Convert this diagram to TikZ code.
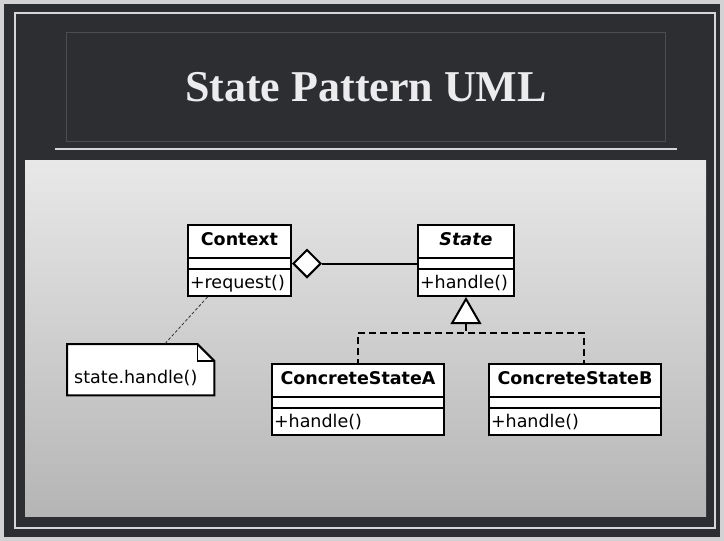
\documentclass[tikz,border=0pt]{standalone}
\usepackage{fontspec}
\newfontfamily\umlfont{DejaVu Sans}
\newfontfamily\slidefont{Liberation Serif}
\usetikzlibrary{positioning,shapes.multipart,shapes.geometric}
\definecolor{slate}{HTML}{2C2E32}
\definecolor{rim}{HTML}{D2D2D4}
\definecolor{chalk}{HTML}{D6D6D8}
\definecolor{titlewhite}{HTML}{ECECEE}
\definecolor{paneltop}{HTML}{E8E8E9}
\definecolor{panelbot}{HTML}{B5B5B6}
\newcommand{\umltop}{\rule[-12pt]{0pt}{31pt}}
\newcommand{\umlmid}{\rule{0pt}{9pt}}
\newcommand{\umlbot}{\rule[-7pt]{0pt}{25pt}}
\tikzset{
    umlclass/.style={
    rectangle split,rectangle split parts=3,draw=black,fill=white,line width=2pt,
    inner xsep=2pt,inner ysep=0pt,rectangle split part align={center,left,left},
    font=\umlfont\fontsize{17.5}{20}\selectfont,anchor=north west
    },
    aggr/.style={
    diamond,draw=black,fill=white,line width=2pt,minimum width=28pt,minimum height=28pt,inner sep=0pt
    },
    gen/.style={
    isosceles triangle,isosceles triangle apex angle=60,shape border rotate=90,
    draw=black,fill=white,line width=2pt,minimum size=24pt,inner sep=0pt,anchor=apex
    },
    notebox/.style={
    rectangle,minimum width=147pt,minimum height=51pt,inner xsep=7pt,inner ysep=8.5pt,
    text width=133pt,align=left,anchor=north west,font=\umlfont\fontsize{17.5}{20}\selectfont
    },
  assoc/.style={draw, line width=2pt},
  realize/.style={draw, line width=2pt, dash pattern=on 7pt off 4pt},
  noteline/.style={draw, line width=0.8pt, dash pattern=on 3pt off 2pt, black!80},
  chalkline/.style={draw=chalk, line width=1.2pt},
  slidetitle/.style={font=\slidefont\bfseries\fontsize{44}{50}\selectfont, text=titlewhite}
}

\begin{document}
\begin{tikzpicture}[x=1pt,y=-1pt]
    \useasboundingbox (0,0) rectangle (724,541);
    % slide background
    \fill[rim] (0,0) rectangle (724,541);
    \fill[slate] (4,4) rectangle (720,537);
    \draw[chalkline] (15,13) rectangle (715,528);
    \draw[slate!85!white, line width=0.6pt] (66,32) rectangle (665,141);
    \draw[chalkline, line width=1.8pt] (55,149) -- (677,149);
    \shade[top color=paneltop, bottom color=panelbot] (25,160) rectangle (706,516);
    \node[slidetitle] (title) at (366,87) {State Pattern UML};

    % classes
    \node[umlclass, minimum width=103pt] (ctx) at (187,224)
      {\textbf{Context}\umltop \nodepart{two}\umlmid \nodepart{three}+request()\umlbot};
    \node[umlclass, minimum width=96pt] (state) at (417,224)
      {\textbf{\textit{State}}\umltop \nodepart{two}\umlmid \nodepart{three}+handle()\umlbot};
    \node[umlclass, minimum width=172pt] (csa) at (271,363)
      {\textbf{ConcreteStateA}\umltop \nodepart{two}\umlmid \nodepart{three}+handle()\umlbot};
    \node[umlclass, minimum width=172pt] (csb) at (488,363)
      {\textbf{ConcreteStateB}\umltop \nodepart{two}\umlmid \nodepart{three}+handle()\umlbot};

    \node[aggr, right=0pt of ctx, yshift=-3pt] (agg) {};
    \node[gen] (tri) at (state.south) {};

    % note
    \node[notebox] (note) at (67,344) {\rule{0pt}{30pt}state.handle()};
    \draw[line width=2pt, fill=white] (note.north west) -- ([xshift=-17pt]note.north east)
      -- ([yshift=-17pt]note.north east) -- (note.south east) -- (note.south west) -- cycle;
    \draw[line width=1.4pt] ([xshift=-17pt]note.north east) -- ([xshift=-17pt,yshift=-17pt]note.north east)
      -- ([yshift=-17pt]note.north east);
    \node[notebox] at (67,344) {\rule{0pt}{30pt}state.handle()};

    \begin{scope}
      \path[assoc] (agg.east) -- (agg -| state.west);
      \path[realize] (tri.south) -- ++(0,9) -| (csa.north);
      \path[realize] (tri.south) -- ++(0,9) -| ([xshift=9pt]csb.north);
      \path[noteline] ([xshift=-32pt]ctx.south) -- ([xshift=24pt]note.north);
    \end{scope}
\end{tikzpicture}
\end{document}
